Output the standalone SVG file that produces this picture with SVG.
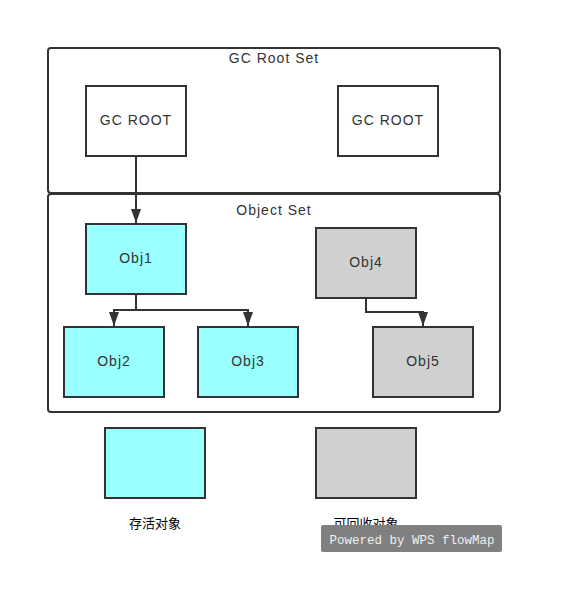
<svg xmlns="http://www.w3.org/2000/svg" width="563" height="607" viewBox="0 0 563 607">
  <defs>
    <marker id="arrow" viewBox="0 0 14 10" refX="14" refY="5" markerWidth="14" markerHeight="10" markerUnits="userSpaceOnUse" orient="auto">
      <path d="M0,0 L14,5 L0,10 Z" fill="#333"/>
    </marker>
  </defs>
  <style>
    .frame { fill: #fff; stroke: #333; stroke-width: 2; }
    .box { stroke: #333; stroke-width: 2; }
    .live { fill: #99ffff; }
    .dead { fill: #d0d0d0; }
    .plain { fill: #fff; }
    .label { font-family: "Liberation Sans", Arial, sans-serif; font-size: 14px; fill: #333; text-anchor: middle; letter-spacing: 1px; }
    .cjk { font-family: "Liberation Sans", "Noto Sans CJK SC", sans-serif; font-size: 13px; fill: #000; text-anchor: middle; }
    .link { fill: none; stroke: #333; stroke-width: 2; }
  </style>
  <rect width="563" height="607" fill="#fff"/>

  <!-- containers -->
  <g id="gc-root-set">
    <rect class="frame" x="48" y="48" width="452" height="145" rx="3"/>
    <text class="label" x="274" y="63">GC Root Set</text>
  </g>
  <g id="object-set">
    <rect class="frame" x="48" y="194" width="452" height="218" rx="3"/>
    <text class="label" x="274" y="215">Object Set</text>
  </g>

  <!-- nodes -->
  <g id="gc-root-1">
    <rect class="box plain" x="86" y="86" width="100" height="70"/>
    <text class="label" x="136" y="125">GC ROOT</text>
  </g>
  <g id="gc-root-2">
    <rect class="box plain" x="338" y="86" width="100" height="70"/>
    <text class="label" x="388" y="125">GC ROOT</text>
  </g>
  <g id="obj1">
    <rect class="box live" x="86" y="224" width="100" height="70"/>
    <text class="label" x="136" y="263">Obj1</text>
  </g>
  <g id="obj2">
    <rect class="box live" x="64" y="327" width="100" height="70"/>
    <text class="label" x="114" y="366">Obj2</text>
  </g>
  <g id="obj3">
    <rect class="box live" x="198" y="327" width="100" height="70"/>
    <text class="label" x="248" y="366">Obj3</text>
  </g>
  <g id="obj4">
    <rect class="box dead" x="316" y="228" width="100" height="70"/>
    <text class="label" x="366" y="267">Obj4</text>
  </g>
  <g id="obj5">
    <rect class="box dead" x="373" y="327" width="100" height="70"/>
    <text class="label" x="423" y="366">Obj5</text>
  </g>

  <!-- legend -->
  <g id="legend-live">
    <rect class="box live" x="105" y="428" width="100" height="70"/>
    <text class="cjk" x="155" y="528">存活对象</text>
  </g>
  <g id="legend-dead">
    <rect class="box dead" x="316" y="428" width="100" height="70"/>
    <text class="cjk" x="366" y="528">可回收对象</text>
  </g>

  <!-- connectors -->
  <g id="connectors">
    <path class="link" d="M136,156 V223" marker-end="url(#arrow)"/>
    <path class="link" d="M136,294 V310 H114 V326" marker-end="url(#arrow)"/>
    <path class="link" d="M136,310 H248 V326" marker-end="url(#arrow)"/>
    <path class="link" d="M366,298 V312 H423 V326" marker-end="url(#arrow)"/>
  </g>

  <!-- watermark -->
  <g id="watermark">
    <rect x="321" y="525" width="181" height="27" rx="2" fill="#808080"/>
    <text x="412" y="544" font-family="'Liberation Mono', 'DejaVu Sans Mono', monospace" font-size="12.5" fill="#f0f0f0" text-anchor="middle">Powered by WPS flowMap</text>
  </g>
</svg>
